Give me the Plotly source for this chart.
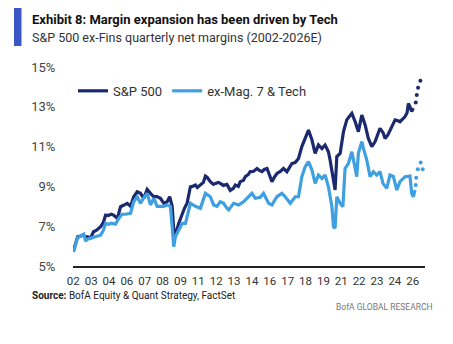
import plotly.graph_objects as go
import numpy as np

# ---- data ----
sp_x = [2002.00, 2002.14, 2002.28, 2002.48, 2002.62, 2002.83, 2002.97, 2003.17, 2003.38, 2003.59,
        2003.87, 2004.07, 2004.21, 2004.42, 2004.62, 2004.76, 2005.02, 2005.11, 2005.25, 2005.45,
        2005.71, 2005.94, 2006.16, 2006.40, 2006.63, 2006.86, 2007.09, 2007.32, 2007.55, 2007.73,
        2008.01, 2008.24, 2008.47, 2008.65, 2008.82, 2008.93, 2009.04, 2009.27, 2009.51, 2009.67,
        2009.85, 2010.08, 2010.22, 2010.43, 2010.56, 2010.77, 2010.98, 2011.12, 2011.25, 2011.46,
        2011.67, 2011.81, 2012.01, 2012.15, 2012.36, 2012.61, 2012.84, 2013.05, 2013.19, 2013.40,
        2013.53, 2013.74, 2013.88, 2014.09, 2014.22, 2014.43, 2014.69, 2014.85, 2015.03, 2015.19,
        2015.38, 2015.54, 2015.72, 2015.88, 2016.07, 2016.30, 2016.52, 2016.76, 2016.92, 2017.10,
        2017.33, 2017.56, 2017.79, 2018.02, 2018.25, 2018.49, 2018.71, 2018.94, 2019.18, 2019.40,
        2019.63, 2019.75, 2019.87, 2019.99, 2020.09, 2020.21, 2020.44, 2020.67, 2020.90, 2021.06,
        2021.25, 2021.48, 2021.70, 2021.94, 2022.17, 2022.39, 2022.63, 2022.86, 2023.06, 2023.20,
        2023.41, 2023.55, 2023.75, 2023.89, 2024.10, 2024.24, 2024.44, 2024.58, 2024.79, 2024.93,
        2025.07, 2025.16, 2025.27, 2025.39, 2025.50]
sp_y = [5.80, 6.20, 6.47, 6.50, 6.55, 6.45, 6.47, 6.40, 6.72, 6.80,
        6.97, 7.20, 7.56, 7.55, 7.60, 7.56, 7.40, 7.60, 7.98, 8.05,
        8.15, 8.00, 8.48, 8.73, 8.65, 8.40, 8.85, 8.65, 8.48, 8.50,
        8.40, 8.15, 8.23, 8.48, 8.00, 6.81, 6.56, 7.14, 7.65, 7.90,
        8.15, 8.98, 9.00, 9.07, 8.95, 9.07, 9.20, 9.52, 9.45, 9.24,
        9.10, 9.15, 9.20, 9.15, 9.05, 9.10, 8.80, 8.90, 9.07, 9.00,
        9.24, 9.30, 9.49, 9.60, 9.74, 9.75, 9.90, 9.80, 9.74, 9.85,
        9.90, 9.60, 9.24, 9.45, 9.65, 9.75, 9.90, 9.74, 9.95, 10.15,
        10.20, 10.40, 11.00, 11.41, 11.83, 11.33, 10.66, 11.08, 10.90, 11.08,
        10.74, 10.30, 9.82, 9.20, 8.82, 10.50, 10.66, 11.75, 12.34, 12.50,
        12.67, 12.25, 11.75, 12.59, 12.09, 11.41, 11.00, 11.25, 11.60, 11.92,
        11.70, 11.41, 11.60, 11.83, 12.10, 12.34, 12.30, 12.25, 12.40, 12.51,
        12.70, 13.17, 13.00, 12.76, 12.93]

sp_fc_x = [2025.67, 2025.74, 2025.83, 2025.99]
sp_fc_y = [13.22, 13.59, 13.96, 14.31]

ex_x = [2002.00, 2002.26, 2002.48, 2002.71, 2002.83, 2002.97, 2003.17, 2003.38, 2003.64, 2003.87,
        2004.07, 2004.21, 2004.42, 2004.62, 2004.90, 2005.13, 2005.36, 2005.59, 2005.94, 2006.16,
        2006.40, 2006.63, 2006.83, 2007.09, 2007.32, 2007.55, 2007.78, 2008.01, 2008.24, 2008.47,
        2008.70, 2008.82, 2008.93, 2009.04, 2009.27, 2009.51, 2009.74, 2010.08, 2010.43, 2010.77,
        2011.12, 2011.46, 2011.69, 2011.92, 2012.15, 2012.38, 2012.61, 2012.73, 2013.07, 2013.42,
        2013.76, 2014.11, 2014.34, 2014.57, 2014.91, 2015.14, 2015.49, 2015.72, 2016.07, 2016.41,
        2016.64, 2016.99, 2017.33, 2017.56, 2017.79, 2018.02, 2018.25, 2018.49, 2018.71, 2018.94,
        2019.18, 2019.40, 2019.63, 2019.87, 2019.98, 2020.09, 2020.21, 2020.44, 2020.63, 2020.78,
        2021.01, 2021.25, 2021.48, 2021.59, 2021.70, 2021.94, 2022.05, 2022.28, 2022.51, 2022.74,
        2022.97, 2023.20, 2023.40, 2023.66, 2023.89, 2024.12, 2024.36, 2024.58, 2024.93, 2025.27,
        2025.39, 2025.50, 2025.62]
ex_y = [5.70, 6.40, 6.50, 6.60, 6.25, 6.35, 6.40, 6.45, 6.50, 6.55,
        6.80, 7.14, 7.10, 7.15, 7.10, 7.40, 7.60, 7.60, 7.65, 8.23,
        8.48, 8.15, 8.40, 8.65, 8.07, 8.40, 8.00, 8.00, 8.00, 8.07,
        8.00, 6.97, 5.97, 6.47, 6.81, 7.14, 7.14, 8.15, 8.00, 7.90,
        8.65, 8.48, 8.07, 8.00, 8.23, 8.15, 7.90, 7.82, 8.15, 8.07,
        8.23, 8.48, 8.65, 8.40, 8.45, 8.65, 8.15, 8.07, 8.48, 8.65,
        8.48, 8.15, 8.48, 8.48, 9.49, 9.99, 10.25, 9.82, 9.15, 9.57,
        9.40, 9.57, 8.98, 7.98, 6.97, 6.90, 8.48, 8.15, 7.98, 9.90,
        10.15, 10.74, 9.99, 9.49, 10.66, 11.25, 10.91, 10.33, 9.49, 9.74,
        9.57, 9.74, 9.15, 8.90, 9.57, 9.50, 8.82, 9.24, 9.49, 9.52,
        8.65, 8.48, 8.82]

ex_fc_x = [2025.67, 2025.70, 2025.81, 2026.01, 2026.15]
ex_fc_y = [9.07, 9.44, 9.86, 10.20, 9.86]

x_tick_labels = ["02", "03", "04", "06", "07", "08", "09", "11", "12", "13",
                 "14", "16", "17", "18", "19", "21", "22", "23", "24", "26"]
y_tick_values = [5, 7, 9, 11, 13, 15]
y_tick_labels = ["5%", "7%", "9%", "11%", "13%", "15%"]

DARK = "#1b2a6e"
LIGHT = "#3f9fe0"
FONT = "Roboto, Liberation Sans, sans-serif"

fig = go.Figure()
fig.add_trace(go.Scatter(x=sp_x, y=sp_y, mode="lines", name="S&P 500",
                         line=dict(color=DARK, width=3.2)))
fig.add_trace(go.Scatter(x=ex_x, y=ex_y, mode="lines", name="ex-Mag. 7 & Tech",
                         line=dict(color=LIGHT, width=3.2)))
fig.add_trace(go.Scatter(x=sp_fc_x, y=sp_fc_y, mode="markers", showlegend=False,
                         marker=dict(color=DARK, size=4)))
fig.add_trace(go.Scatter(x=ex_fc_x, y=ex_fc_y, mode="markers", showlegend=False,
                         marker=dict(color=LIGHT, size=4)))

tickvals = list(np.linspace(2001.98, 2025.46, len(x_tick_labels)))


def px_x(px):
    return (px - 73) / (453 - 73 - 28)


def px_y(py):
    return (266 - py) / (266 - 67)


fig.update_layout(
    width=453, height=344,
    margin=dict(l=73, r=28, t=67, b=78),
    paper_bgcolor="white", plot_bgcolor="white",
    font=dict(family=FONT, color="#333333"),
    showlegend=True,
    legend=dict(orientation="h", x=0.0, y=0.88, xanchor="left", yanchor="middle",
                font=dict(size=13, color="#333333"), bgcolor="rgba(0,0,0,0)",
                itemwidth=30, tracegroupgap=0),
    xaxis=dict(range=[2001.96, 2026.31], tickmode="array", tickvals=tickvals,
               ticktext=x_tick_labels, showgrid=False, zeroline=False,
               showline=True, linecolor="#222222", linewidth=1.5,
               ticks="outside", ticklen=3, tickcolor="rgba(0,0,0,0)",
               tickfont=dict(size=11.5, color="#333333")),
    yaxis=dict(range=[5, 15], tickmode="array", tickvals=y_tick_values,
               ticktext=y_tick_labels, showgrid=False, zeroline=False,
               showline=False, ticks="outside", ticklen=14, tickcolor="rgba(0,0,0,0)",
               tickfont=dict(size=13, color="#444444")),
    shapes=[dict(type="rect", xref="paper", yref="paper",
                 x0=px_x(14), x1=px_x(21.5), y0=px_y(46), y1=px_y(8),
                 fillcolor="#3a56c5", line=dict(width=0))],
)

fig.add_annotation(xref="paper", yref="paper", x=px_x(30), y=px_y(19), xanchor="left",
                   yanchor="middle", showarrow=False,
                   text="<b>Exhibit 8: Margin expansion has been driven by Tech</b>",
                   font=dict(size=13, color="#111111", family=FONT))
fig.add_annotation(xref="paper", yref="paper", x=px_x(30), y=px_y(37), xanchor="left",
                   yanchor="middle", showarrow=False,
                   text="S&P 500 ex-Fins quarterly net margins (2002-2026E)",
                   font=dict(size=12.5, color="#333333", family=FONT))
fig.add_annotation(xref="paper", yref="paper", x=px_x(30), y=px_y(295), xanchor="left",
                   yanchor="middle", showarrow=False,
                   text="<b>Source:</b> BofA Equity & Quant Strategy, FactSet",
                   font=dict(size=10, color="#222222", family=FONT))
fig.add_annotation(xref="paper", yref="paper", x=px_x(435), y=px_y(307), xanchor="right",
                   yanchor="middle", showarrow=False,
                   text="BofA GLOBAL RESEARCH",
                   font=dict(size=8.5, color="#777777", family=FONT))

fig.write_html("out.html")
